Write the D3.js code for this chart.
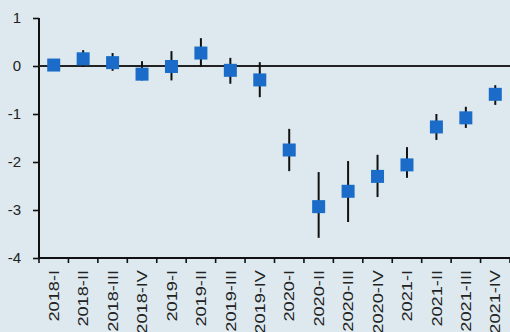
<!DOCTYPE html>
<html>
<head>
<meta charset="utf-8">
<script src="https://cdn.jsdelivr.net/npm/d3@7"></script>
<style>
html,body{margin:0;padding:0;background:#dde9ee;}
svg{display:block;}
</style>
</head>
<body>
<svg id="chart" width="510" height="332"></svg>
<script>
const categories = ["2018-I","2018-II","2018-III","2018-IV","2019-I","2019-II","2019-III","2019-IV","2020-I","2020-II","2020-III","2020-IV","2021-I","2021-II","2021-III","2021-IV"];
const values = [0.02, 0.15, 0.07, -0.17, -0.01, 0.27, -0.09, -0.29, -1.75, -2.93, -2.61, -2.30, -2.06, -1.27, -1.08, -0.59];
const upper  = [0.10, 0.33, 0.27, 0.10, 0.31, 0.58, 0.17, 0.08, -1.31, -2.21, -1.98, -1.85, -1.69, -1.00, -0.85, -0.40];
const lower  = [-0.08, -0.02, -0.10, -0.30, -0.30, -0.02, -0.37, -0.65, -2.19, -3.58, -3.25, -2.73, -2.33, -1.54, -1.29, -0.81];
const yTicks = [1, 0, -1, -2, -3, -4];

(function(){
const svg = d3.select("#chart");
const mLeft = 39, mRight = 510, mTop = 18, mBottom = 258;

const x = d3.scaleBand().domain(categories).range([mLeft, mRight]);
const y = d3.scaleLinear().domain([-4, 1]).range([mBottom, mTop]);

svg.append("rect").attr("width",510).attr("height",332).attr("fill","#dde9ee");

// Y axis
const yAxis = svg.append("g").attr("transform",`translate(${mLeft},0)`)
  .call(d3.axisLeft(y).tickValues(yTicks).tickSize(6).tickPadding(12).tickFormat(d3.format("d")));
yAxis.select(".domain").attr("stroke","#111").attr("stroke-width",2).attr("d",`M0,${mTop}V${mBottom}`);
yAxis.selectAll(".tick line").attr("stroke","#111").attr("stroke-width",1.6);
yAxis.selectAll(".tick text").attr("fill","#222").style("font-family","'Liberation Sans', Arial, sans-serif").style("font-size","15px")
  .text(d => d < 0 ? "-" + Math.abs(d) : d);

// X axis
const xAxis = svg.append("g").attr("transform",`translate(0,${mBottom})`)
  .call(d3.axisBottom(x).tickSize(0).tickFormat(""));
xAxis.select(".domain").attr("stroke","#111").attr("stroke-width",2).attr("d",`M${mLeft},0H${mRight}`);
xAxis.selectAll(".tick").remove();
const bounds = categories.map(c => x(c)).concat([mRight]);
xAxis.selectAll("line.xt").data(bounds).enter().append("line")
  .attr("class","xt").attr("x1",d=>d).attr("x2",d=>d).attr("y1",0).attr("y2",5)
  .attr("stroke","#111").attr("stroke-width",1.6);

// X labels
svg.append("g").selectAll("text").data(categories).enter().append("text")
  .attr("transform", d => `translate(${x(d)+x.bandwidth()/2},270) rotate(-90) scale(1.3,1)`)
  .attr("text-anchor","end")
  .attr("dominant-baseline","central")
  .attr("fill","#222")
  .style("font-family","'Liberation Sans', Arial, sans-serif")
  .style("font-size","14px")
  .text(d => d);

// Zero line
svg.append("line").attr("x1",mLeft).attr("x2",mRight).attr("y1",y(0)).attr("y2",y(0))
  .attr("stroke","#222").attr("stroke-width",2);

// Error bars
svg.append("g").selectAll("line").data(categories).enter().append("line")
  .attr("x1", d => x(d)+x.bandwidth()/2).attr("x2", d => x(d)+x.bandwidth()/2)
  .attr("y1", (d,i) => y(upper[i])).attr("y2", (d,i) => y(lower[i]))
  .attr("stroke","#111").attr("stroke-width",2);

// Squares
const s = 13;
svg.append("g").selectAll("rect").data(categories).enter().append("rect")
  .attr("x", d => x(d)+x.bandwidth()/2 - s/2)
  .attr("y", (d,i) => y(values[i]) - s/2)
  .attr("width", s).attr("height", s)
  .attr("fill","#1a6cc8");
})();
</script>
</body>
</html>
